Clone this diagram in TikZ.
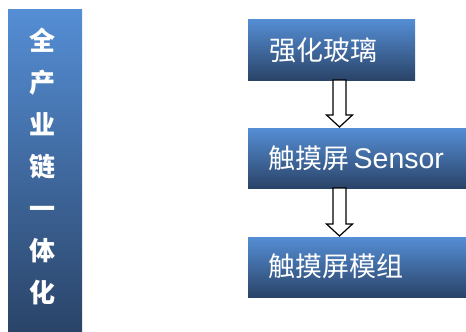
\documentclass[tikz,border=0pt]{standalone}
\usepackage{fontspec}
\setsansfont{Liberation Sans}
\newfontfamily\cjk{Noto Sans CJK SC}
\usetikzlibrary{calc}
\definecolor{topblue}{HTML}{558ED5}
\definecolor{botblue}{HTML}{2A4468}
\tikzset{
  gradbox/.style={rectangle, inner sep=0pt, outer sep=0pt, top color=topblue, bottom color=botblue, draw=none},
  boxtext/.style={anchor=west, text=white, inner sep=0pt, font=\cjk\fontsize{27}{30}\selectfont},
  blockarrow/.style={draw=black, fill=white, line width=1.2pt, line join=miter}
}
\begin{document}
\begin{tikzpicture}[x=1pt,y=-1pt]
\useasboundingbox (0,0) rectangle (466,332);
\fill[white] (0,0) rectangle (466,332);
% left bar
\node[gradbox, minimum width=74pt, minimum height=323pt] (bar) at (45,170.5) {};
\node[text=white, align=center, font=\cjk\bfseries\fontsize{26}{42}\selectfont, inner sep=0pt] (bartext) at (42,166) {全\\产\\业\\链\\一\\体\\化};
% boxes
\node[gradbox, minimum width=167pt, minimum height=61pt] (b1) at (331.5,49.5) {};
\node[gradbox, minimum width=218pt, minimum height=60pt] (b2) at (357,158) {};
\node[gradbox, minimum width=218pt, minimum height=60pt] (b3) at (357,267) {};
\node[boxtext] (t1) at (269,50) {强化玻璃};
\node[boxtext] (t2) at (268,158) {触摸屏\,{\sffamily\fontsize{28.5}{30}\selectfont Sensor}};
\node[boxtext] (t3) at (268,266) {触摸屏模组};
% arrows
\coordinate (ax) at (339.5,0);
\coordinate (a1s) at (b1.south -| ax);
\coordinate (a1e) at (b2.north -| ax);
\draw[blockarrow] ($(a1s)+(-6.5,0)$) -- ($(a1s)+(6.5,0)$) -- ($(a1e)+(6.5,-13)$) -- ($(a1e)+(13,-13)$) -- ($(a1e)+(0,-1)$) -- ($(a1e)+(-13,-13)$) -- ($(a1e)+(-6.5,-13)$) -- cycle;
\coordinate (a2s) at (b2.south -| ax);
\coordinate (a2e) at (b3.north -| ax);
\draw[blockarrow] ($(a2s)+(-6.5,0)$) -- ($(a2s)+(6.5,0)$) -- ($(a2e)+(6.5,-13)$) -- ($(a2e)+(13,-13)$) -- ($(a2e)+(0,-1)$) -- ($(a2e)+(-13,-13)$) -- ($(a2e)+(-6.5,-13)$) -- cycle;
\end{tikzpicture}
\end{document}
